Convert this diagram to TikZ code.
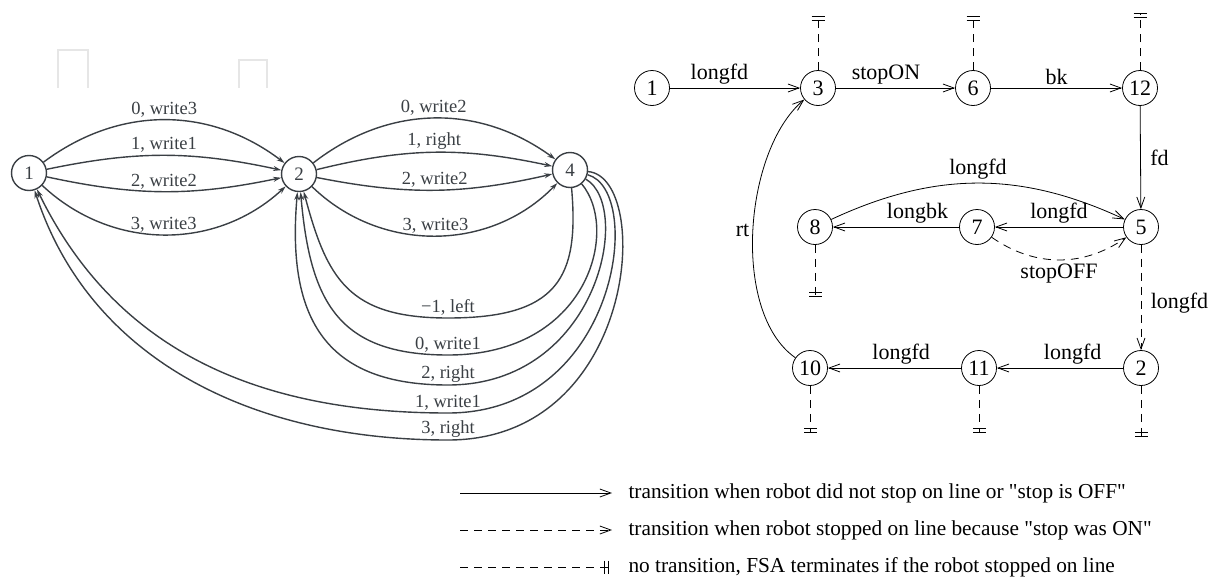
\documentclass[tikz,border=0pt]{standalone}
\usepackage{fontspec}
\setmainfont{Liberation Serif}
\usetikzlibrary{arrows.meta}
\definecolor{scan}{HTML}{3A3F44}
\definecolor{ghost}{HTML}{E6E6E6}

\begin{document}
\begin{tikzpicture}[x=1pt,y=1pt,
    oldstate/.style={circle,draw=scan,line width=1.4pt,minimum size=35pt,inner sep=0pt,text=scan,font=\fontsize{19}{22}\selectfont},
    oldedge/.style={draw=scan,line width=1.4pt,-{Stealth[length=8pt,width=5pt]}},
    oldlabel/.style={text=scan,font=\fontsize{18.5}{22}\selectfont,inner sep=2pt},
    state/.style={circle,draw,line width=0.8pt,minimum size=35pt,inner sep=0pt,font=\fontsize{22}{26}\selectfont},
    trans/.style={line width=0.8pt,-{Straight Barb[length=11pt,width=8pt]}},
    stoptrans/.style={trans,dash pattern=on 8pt off 6pt},
    halt/.style={line width=0.8pt,dash pattern=on 8pt off 6pt,-{Bar[width=13pt,sep=3pt]Bar[width=13pt]}},
    lbl/.style={font=\fontsize{22}{26}\selectfont},
    keytext/.style={anchor=west,font=\fontsize{21.3}{25}\selectfont}]
  \useasboundingbox (0,0) rectangle (1217,-581);

  % scanned machine (left)
  \draw[ghost,line width=2pt] (58,-88) -- (58,-50) -- (88,-50) -- (88,-88);
  \draw[ghost,line width=2pt] (239,-88) -- (239,-60) -- (267,-60) -- (267,-88);

  \node[oldstate] (l1) at (29,-173) {1};
  \node[oldstate] (l2) at (299,-174) {2};
  \node[oldstate] (l4) at (570,-170) {4};

  \draw[oldedge] (l1) to[bend left=37] node[oldlabel,above] {0, write3} (l2);
  \draw[oldedge] (l1) to[bend left=12] node[oldlabel,above] {1, write1} (l2);
  \draw[oldedge] (l1) to[bend right=12] node[oldlabel,above] {2, write2} (l2);
  \draw[oldedge] (l1) to[bend right=43] node[oldlabel,above] {3, write3} (l2);
  \draw[oldedge] (l2) to[bend left=37] node[oldlabel,above] {0, write2} (l4);
  \draw[oldedge] (l2) to[bend left=13] node[oldlabel,above] {1, right} (l4);
  \draw[oldedge] (l2) to[bend right=12] node[oldlabel,above] {2, write2} (l4);
  \draw[oldedge] (l2) to[bend right=45] node[oldlabel,above] {3, write3} (l4);

  \draw[oldedge] (l4) to[out=-85,in=0,out distance=90pt,in distance=110pt] (448,-318) node[oldlabel,above] {−1, left}
    to[out=180,in=-75,out distance=100pt,in distance=90pt] (l2);
  \draw[oldedge] (l4) to[out=-50,in=0,out distance=60pt,in distance=140pt] (448,-355) node[oldlabel,above] {0, write1}
    to[out=180,in=-85,out distance=110pt,in distance=110pt] (l2);
  \draw[oldedge] (l4) to[out=-30,in=0,out distance=55pt,in distance=150pt] (448,-385) node[oldlabel,above] {2, right}
    to[out=180,in=-95,out distance=120pt,in distance=130pt] (l2);
  \draw[oldedge] (l4) to[out=-15,in=0,out distance=60pt,in distance=170pt] (448,-413) node[oldlabel,above] {1, write1}
    to[out=180,in=-64,out distance=190pt,in distance=180pt] (l1);
  \draw[oldedge] (l4) to[out=-5,in=0,out distance=65pt,in distance=190pt] (448,-440) node[oldlabel,above] {3, right}
    to[out=180,in=-72,out distance=200pt,in distance=175pt] (l1);

  % robot FSA (right)
  \node[state] (r1) at (652,-88) {1};
  \node[state] (r3) at (818,-88) {3};
  \node[state] (r6) at (973,-88) {6};
  \node[state] (r12) at (1140,-88) {12};
  \node[state] (r8) at (815,-227) {8};
  \node[state] (r7) at (977,-227) {7};
  \node[state] (r5) at (1141,-227) {5};
  \node[state] (r10) at (810,-368) {10};
  \node[state] (r11) at (979,-368) {11};
  \node[state] (r2) at (1141,-368) {2};

  \coordinate (h3) at (818,-16);
  \coordinate (h6) at (973,-16);
  \coordinate (h12) at (1140,-13);
  \coordinate (h8) at (815,-297);
  \coordinate (h10) at (810,-433);
  \coordinate (h11) at (979,-433);
  \coordinate (h2) at (1141,-437);
  \draw[halt] (r3) -- (h3);
  \draw[halt] (r6) -- (h6);
  \draw[halt] (r12) -- (h12);
  \draw[halt] (r8) -- (h8);
  \draw[halt] (r10) -- (h10);
  \draw[halt] (r11) -- (h11);
  \draw[halt] (r2) -- (h2);

  \draw[trans] (r1) -- node[lbl,above,pos=0.38] {longfd} (r3);
  \draw[trans] (r3) -- node[lbl,above,pos=0.42] {stopON} (r6);
  \draw[trans] (r6) -- node[lbl,above] {bk} (r12);
  \draw[trans] (r12) -- node[lbl,right=6pt] {fd} (r5);
  \draw[trans] (r8) to[bend left=25] node[lbl,above] {longfd} (r5);
  \draw[trans] (r5) -- node[lbl,above] {longfd} (r7);
  \draw[trans] (r7) -- node[lbl,above,pos=0.33] {longbk} (r8);
  \draw[stoptrans] (r7) to[bend right=35] node[lbl,below] {stopOFF} (r5);
  \draw[stoptrans] (r5) -- node[lbl,right=6pt,pos=0.55] {longfd} (r2);
  \draw[trans] (r2) -- node[lbl,above,pos=0.4] {longfd} (r11);
  \draw[trans] (r11) -- node[lbl,above,pos=0.45] {longfd} (r10);
  \draw[trans] (r10) to[out=145,in=-140,looseness=0.78] node[lbl,left] {rt} (r3);

  % legend
  \coordinate (k1a) at (460,-493);
  \coordinate (k1b) at (612,-493);
  \coordinate (k2a) at (460,-530);
  \coordinate (k2b) at (612,-530);
  \coordinate (k3a) at (460,-567);
  \coordinate (k3b) at (609,-567);
  \draw[trans] (k1a) -- (k1b);
  \draw[stoptrans] (k2a) -- (k2b);
  \draw[halt] (k3a) -- (k3b);
  \node[keytext] (k1) at (625,-493) {transition when robot did not stop on line or \textquotedbl stop is OFF\textquotedbl};
  \node[keytext] (k2) at (625,-530) {transition when robot stopped on line because \textquotedbl stop was ON\textquotedbl};
  \node[keytext] (k3) at (625,-567) {no transition, FSA terminates if the robot stopped on line};
\end{tikzpicture}
\end{document}
